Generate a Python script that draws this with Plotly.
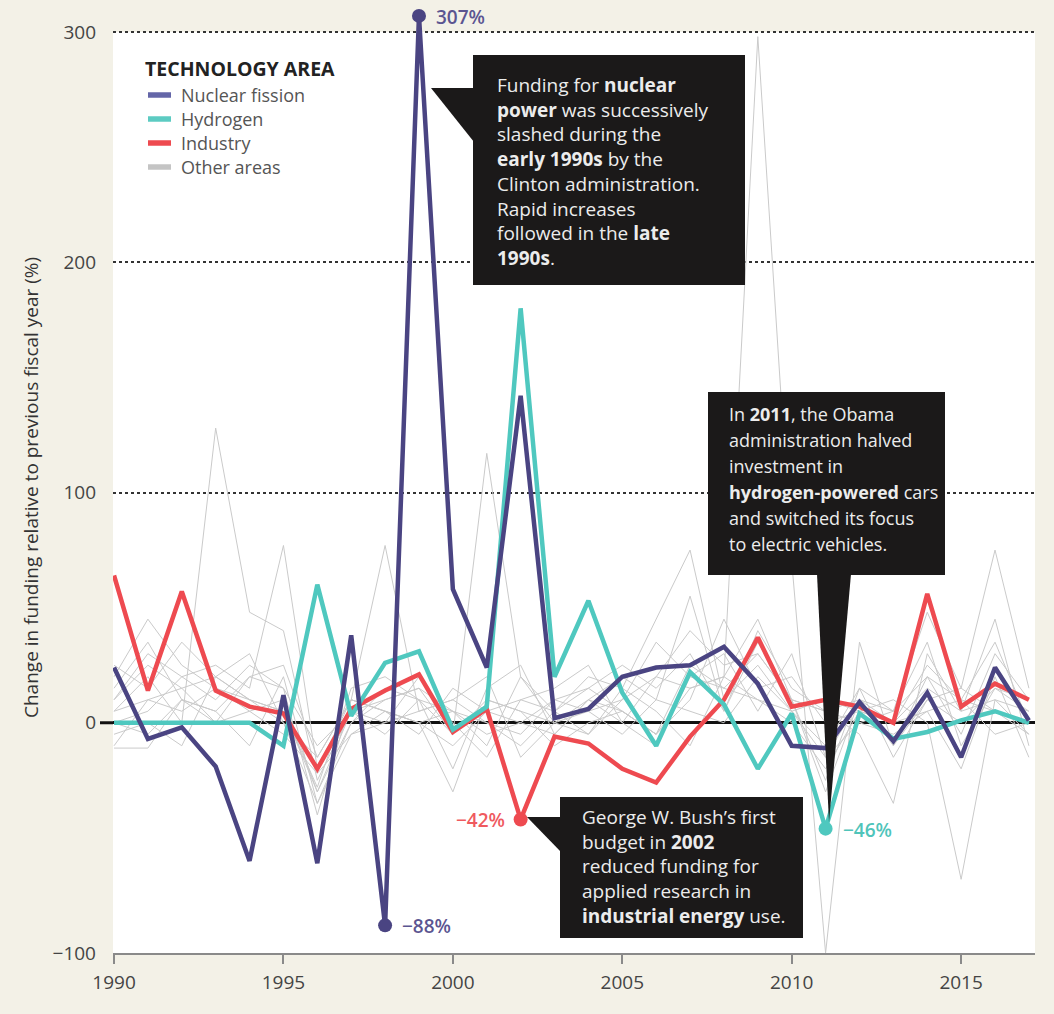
import plotly.graph_objects as go

years = list(range(1990, 2018))

nuclear = [24, -7, -2, -19, -60, 12, -61, 38, -88, 307, 58, 24, 142, 2, 6, 20, 24, 25, 33, 17,
           -10, -11, 9, -8, 13, -15, 24, 1]
hydrogen = [0, 0, 0, 0, 0, -10, 60, 3, 26, 31, -3, 7, 180, 20, 53, 13, -10, 22, 8, -20,
            4, -46, 4, -7, -4, 1, 5, 0]
industry = [64, 14, 57, 14, 7, 4, -20, 6, 14, 21, -4, 6, -42, -6, -9, -20, -26, -6, 10, 37,
            7, 10, 7, 0, 56, 7, 17, 10]

other = [
    [5, 20, 0, 128, 48, 40, -25, 5, 10, 15, -5, 10, 5, 0, 10, 5, -5, 15, 20, 10, 5, -15, 10, 0, 15, 5, 10, -5],
    [-10, 10, 5, 15, 10, 0, -15, 10, 5, 0, 5, -10, 20, 5, -5, 10, 20, 15, 20, 298, 70, -100, 35, -10, 10, 0, 15, 5],
    [10, 25, 15, 20, 10, 5, -30, 0, 15, 10, -5, 117, 20, 0, 5, 10, 35, 20, 15, 30, 10, 5, 0, -5, 5, 10, -5, 0],
    [0, 5, 20, 25, 15, 77, -20, 10, 5, 0, -10, 5, 0, 10, 5, -5, 10, 5, 0, 20, 5, 10, 5, 0, 25, 10, 5, 0],
    [-11, -11, 10, 5, 20, 15, -40, 10, 77, 5, 10, 0, -10, 5, 15, 5, -5, 10, 45, 15, 20, 0, 5, 10, 0, -68, 10, 5],
    [20, 45, 25, 15, 5, 10, -30, 5, 0, 20, 0, -15, 10, 5, 20, 15, 45, 75, 10, 25, 5, -10, 15, 5, 48, 15, 75, 15],
    [15, 35, 10, 5, -10, 20, -35, 0, 10, 15, 5, -5, 0, -5, 10, 20, 10, 55, 5, 40, 15, 5, -5, -35, 30, 5, 45, -10],
    [0, -5, 10, 0, 5, -5, -22, -5, 5, 0, -30, 10, 5, -10, 0, 5, -5, 25, 15, 10, 0, -20, 5, 0, 5, -20, 20, -15],
    [25, 15, 35, 20, 10, 5, -28, 15, 20, 10, 5, 0, -5, 10, 15, 25, 15, 30, 5, 35, 10, 5, 10, -10, 20, -5, 30, 10],
    [10, 30, 20, 10, 25, 15, -10, 5, -5, 10, -20, 15, 25, -5, 10, 0, 20, 40, 25, 30, 10, -30, 10, 5, 20, 10, 35, 0],
    [-5, 0, -10, 20, 30, 0, -35, -5, 0, 5, 10, 20, -15, 0, -5, 15, 5, -10, 20, 45, 10, -25, 15, -15, 10, 15, 5, -5],
    [5, 10, 15, 0, 20, 25, -15, 10, 5, -5, 15, 5, 10, 15, 25, 0, -10, 20, 30, 5, 30, -15, 0, 5, 35, -10, 15, 10],
]

y_ticks = [-100, 0, 100, 200, 300]
x_ticks = [1990, 1995, 2000, 2005, 2010, 2015]

legend_title = "TECHNOLOGY AREA"
legend_names = ["Nuclear fission", "Hydrogen", "Industry", "Other areas"]

C_NUC = "#4a4482"
C_HYD = "#4fc8bf"
C_IND = "#ee4a50"
C_OTH = "#cacaca"
CREAM = "#f3f1e7"
FONT = "Open Sans"

fig = go.Figure()

for s in other:
    fig.add_trace(go.Scatter(x=years, y=s, mode="lines", line=dict(color=C_OTH, width=1),
                             showlegend=False, hoverinfo="skip"))
fig.add_trace(go.Scatter(x=years, y=industry, mode="lines", name="Industry",
                         line=dict(color=C_IND, width=4.5), showlegend=False))
fig.add_trace(go.Scatter(x=years, y=hydrogen, mode="lines", name="Hydrogen",
                         line=dict(color=C_HYD, width=4.5), showlegend=False))
fig.add_trace(go.Scatter(x=years, y=nuclear, mode="lines", name="Nuclear fission",
                         line=dict(color=C_NUC, width=4.5), showlegend=False))

# highlighted points
hl = [
    (nuclear, years.index(1999), C_NUC, "#5b5591", "right"),
    (nuclear, years.index(1998), C_NUC, "#5b5591", "right"),
    (industry, years.index(2002), C_IND, "#ef5a5f", "left"),
    (hydrogen, years.index(2011), C_HYD, "#4fc4ba", "right"),
]
for series, idx, col, tcol, side in hl:
    fig.add_trace(go.Scatter(x=[years[idx]], y=[series[idx]], mode="markers",
                             marker=dict(color=col, size=14), showlegend=False,
                             cliponaxis=False, hoverinfo="skip"))
    v = series[idx]
    txt = ("\u2212" if v < 0 else "") + f"{abs(v)}%"
    fig.add_annotation(x=years[idx], y=v, text=txt, showarrow=False,
                       xanchor="left" if side == "right" else "right",
                       xshift=15 if side == "right" else -14, yshift=-1,
                       font=dict(family=FONT, size=19, color=tcol, weight=600))

# pixel -> paper helpers (plot area: x 113..1035, y 9..953 for range -100..310)
L, R, T, B = 113, 1035, 9, 953
def px(x):
    return (x - L) / (R - L)
def py(y):
    return (B - y) / (B - T)

shapes = []
shapes.append(dict(type="rect", xref="x", yref="y", x0=1989.9, x1=2017.3, y0=-100, y1=300,
                   fillcolor="white", line=dict(width=0), layer="below"))
shapes.append(dict(type="line", xref="paper", yref="y", x0=px(100), x1=px(113), y0=0, y1=0,
                   line=dict(color="#111", width=3)))

BOX = "#1b1919"
def box(x0, y0, x1, y1):
    shapes.append(dict(type="rect", xref="paper", yref="paper", x0=px(x0), x1=px(x1),
                       y0=py(y1), y1=py(y0), fillcolor=BOX, line=dict(width=0), layer="above"))
def tri(pts):
    path = "M " + " L ".join(f"{px(a)},{py(b)}" for a, b in pts) + " Z"
    shapes.append(dict(type="path", xref="paper", yref="paper", path=path,
                       fillcolor=BOX, line=dict(width=0), layer="above"))

box(473, 55, 745, 285)
tri([(431, 88), (474, 88), (474, 142)])
box(708, 392, 945, 575)
tri([(817, 574), (851, 574), (829, 822)])
box(560, 797, 803, 938)
tri([(527, 817), (561, 817), (561, 852)])

# manual legend
leg_cols = ["#6466a8", "#5ccbc2", "#ee4a50", "#c4c4c4"]
for k, (nm, col) in enumerate(zip(legend_names, leg_cols)):
    yy = 95 + k * 24
    shapes.append(dict(type="line", xref="paper", yref="paper", x0=px(148), x1=px(171),
                       y0=py(yy), y1=py(yy), line=dict(color=col, width=5.5)))
    fig.add_annotation(xref="paper", yref="paper", x=px(180), y=py(yy), text=nm,
                       showarrow=False, xanchor="left", yanchor="middle", borderpad=0,
                       font=dict(family=FONT, size=18, color="#555"))
fig.add_annotation(xref="paper", yref="paper", x=px(144), y=py(68), text=f"<b>{legend_title}</b>",
                   showarrow=False, xanchor="left", yanchor="middle", borderpad=0,
                   font=dict(family=FONT, size=19.5, color="#222"))

fig.update_layout(shapes=shapes)

TXT = "#ececec"
def block(x0, y_first, rows, size):
    lh = size * 1.3
    fig.add_annotation(xref="paper", yref="paper", x=px(x0), y=py(y_first - lh / 2),
                       text="<br>".join(rows), align="left",
                       showarrow=False, xanchor="left", yanchor="top", borderpad=0,
                       font=dict(family=FONT, size=size, color=TXT))
def lines(x0, y0, dy, rows, size):
    for k, r in enumerate(rows):
        fig.add_annotation(xref="paper", yref="paper", x=px(x0), y=py(y0 + k * dy), text=r,
                           showarrow=False, xanchor="left", yanchor="middle", borderpad=0,
                           font=dict(family=FONT, size=size, color=TXT))

block(496, 83, [
    "Funding for <b>nuclear</b>",
    "<b>power</b> was successively",
    "slashed during the",
    "<b>early 1990s</b> by the",
    "Clinton administration.",
    "Rapid increases",
    "followed in the <b>late</b>",
    "<b>1990s</b>.",
], 19)
lines(728, 414, 26, [
    "In <b>2011</b>, the Obama",
    "administration halved",
    "investment in",
    "<b>hydrogen-powered</b> cars",
    "and switched its focus",
    "to electric vehicles.",
], 18)
block(581, 815, [
    "George W. Bush\u2019s first",
    "budget in <b>2002</b>",
    "reduced funding for",
    "applied research in",
    "<b>industrial energy</b> use.",
], 19)

fig.add_annotation(xref="paper", yref="paper", x=px(31), y=py(488),
                   text="Change in funding relative to previous fiscal year (%)",
                   textangle=-90, showarrow=False, xanchor="center", yanchor="middle",
                   font=dict(family=FONT, size=19, color="#333"))

fig.update_layout(
    width=1054, height=1014,
    margin=dict(l=L, r=1054 - R, t=T, b=1014 - B),
    paper_bgcolor=CREAM, plot_bgcolor=CREAM,
    font=dict(family=FONT, color="#444"),
    showlegend=False,
    xaxis=dict(range=[1989.97, 2017.18], tickvals=x_ticks, showgrid=False, zeroline=False,
               showline=True, linecolor="#8a8a8a", linewidth=2, ticks="outside", ticklen=9,
               tickcolor="#8a8a8a", tickwidth=1.5, ticklabelstandoff=2,
               tickfont=dict(family=FONT, size=19, color="#444")),
    yaxis=dict(range=[-100, 310], tickvals=y_ticks, showgrid=True, gridcolor="#333",
               griddash="dot", gridwidth=1.5, zeroline=True, zerolinecolor="#111",
               zerolinewidth=3, showline=False, ticks="", ticklabelstandoff=16,
               tickfont=dict(family=FONT, size=19, color="#444")),
)

fig.write_html("out.html", config={"displayModeBar": False},
               post_script="document.body.style.margin='0';")
